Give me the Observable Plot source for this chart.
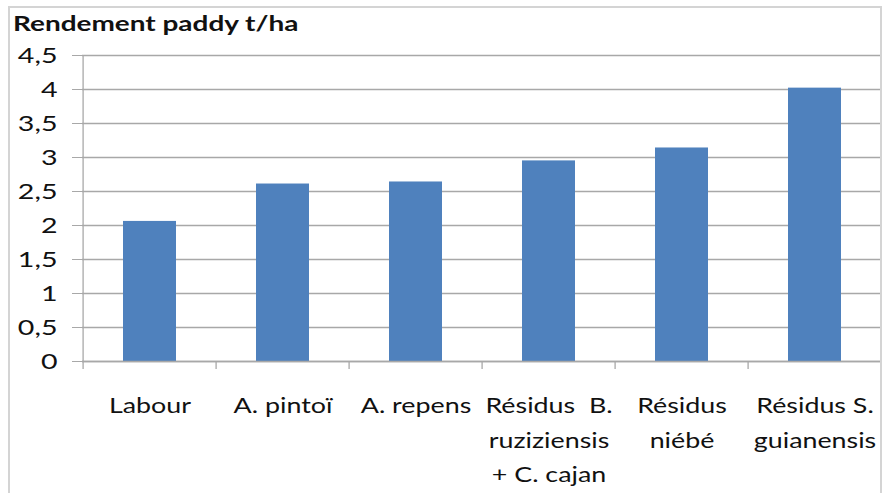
<!DOCTYPE html>
<html>
<head>
<meta charset="utf-8">
<script src="https://cdn.jsdelivr.net/npm/d3@7"></script>
<script src="https://cdn.jsdelivr.net/npm/@observablehq/plot@0.6"></script>
<style>
  html, body { margin: 0; padding: 0; background: #fff; }
  #wrap { position: relative; width: 882px; height: 493px; overflow: hidden; font-family: Lato, "Open Sans", sans-serif; }
  #title { height: 40px; box-sizing: border-box; padding: 12px 0 0 13px; }
  #title span { display: inline-block; font-weight: bold; font-size: 21px; line-height: 22px; color: #111; transform: scaleX(1.33); transform-origin: left center; }
  #border { position: absolute; left: 8px; top: 6px; width: 870px; height: 600px; border: 2px solid #d4d4d4; pointer-events: none; }
</style>
</head>
<body>
<div id="wrap">
  <div id="border"></div>
  <div id="title"><span>Rendement paddy t/ha</span></div>
  <div id="chart"></div>
</div>
<script>
const categories = ["Labour", "A. pintoï", "A. repens", "Résidus  B.\nruziziensis\n+ C. cajan", "Résidus\nniébé", "Résidus S.\nguianensis"];
const values = [2.06, 2.61, 2.64, 2.95, 3.14, 4.02];
const yTicks = [0, 0.5, 1, 1.5, 2, 2.5, 3, 3.5, 4, 4.5];
const barColor = "#4f81bd";

const data = categories.map((c, i) => ({category: c, value: values[i]}));
const fmt = v => String(v).replace(".", ",");

const chart = Plot.plot({
  width: 882,
  height: 453,
  marginLeft: 82,
  marginRight: 0,
  marginTop: 15,
  marginBottom: 132,
  style: {fontFamily: "Lato, 'Open Sans', sans-serif", fontSize: "22px", color: "#111", background: "transparent"},
  x: {domain: categories, paddingInner: 0.6, paddingOuter: 0.3},
  y: {domain: [0, 4.5]},
  marks: [
    Plot.gridY(yTicks, {stroke: "#a8a8a8", strokeOpacity: 1, strokeWidth: 1.3}),
    Plot.axisY(yTicks, {tickSize: 10, tickPadding: 15, tickFormat: fmt, stroke: "#a8a8a8", fill: "#111", fontSize: 22, label: null, className: "yax"}),
    Plot.barY(data, {x: "category", y: "value", fill: barColor}),
    Plot.axisX({tickSize: 0, tickPadding: 27, fontSize: 22, lineHeight: 1.57, label: null, fill: "#111", className: "xax"}),
    Plot.ruleY([0], {stroke: "#a8a8a8", strokeWidth: 1.3})
  ]
});

// Widen glyphs horizontally (reference uses a wide rendering of the font)
d3.select(chart).selectAll("text").each(function() {
  const t = this.getAttribute("transform") || "";
  const inY = this.closest("g[aria-label='y-axis tick label']");
  const s = inY ? 1.3 : 1.22;
  this.setAttribute("transform", (t + ` scale(${s},1)`).trim());
});

// Axis line and category boundary ticks derived from the library's scales
const xs = chart.scale("x");
const ys = chart.scale("y");
const svg = d3.select(chart);
const step = xs.step;
const y0 = ys.apply(0);
const yTop = ys.apply(4.5);
const x0 = xs.apply(categories[0]) - step * xs.paddingOuter;
const g = svg.append("g").attr("stroke", "#a8a8a8").attr("stroke-width", 1.3);
g.append("line").attr("x1", x0).attr("x2", x0).attr("y1", yTop).attr("y2", y0 + 8);
for (let i = 1; i <= categories.length; i++) {
  const xb = x0 + i * step;
  g.append("line").attr("x1", xb).attr("x2", xb).attr("y1", y0).attr("y2", y0 + 8);
}
document.getElementById("chart").appendChild(chart);
</script>
</body>
</html>
